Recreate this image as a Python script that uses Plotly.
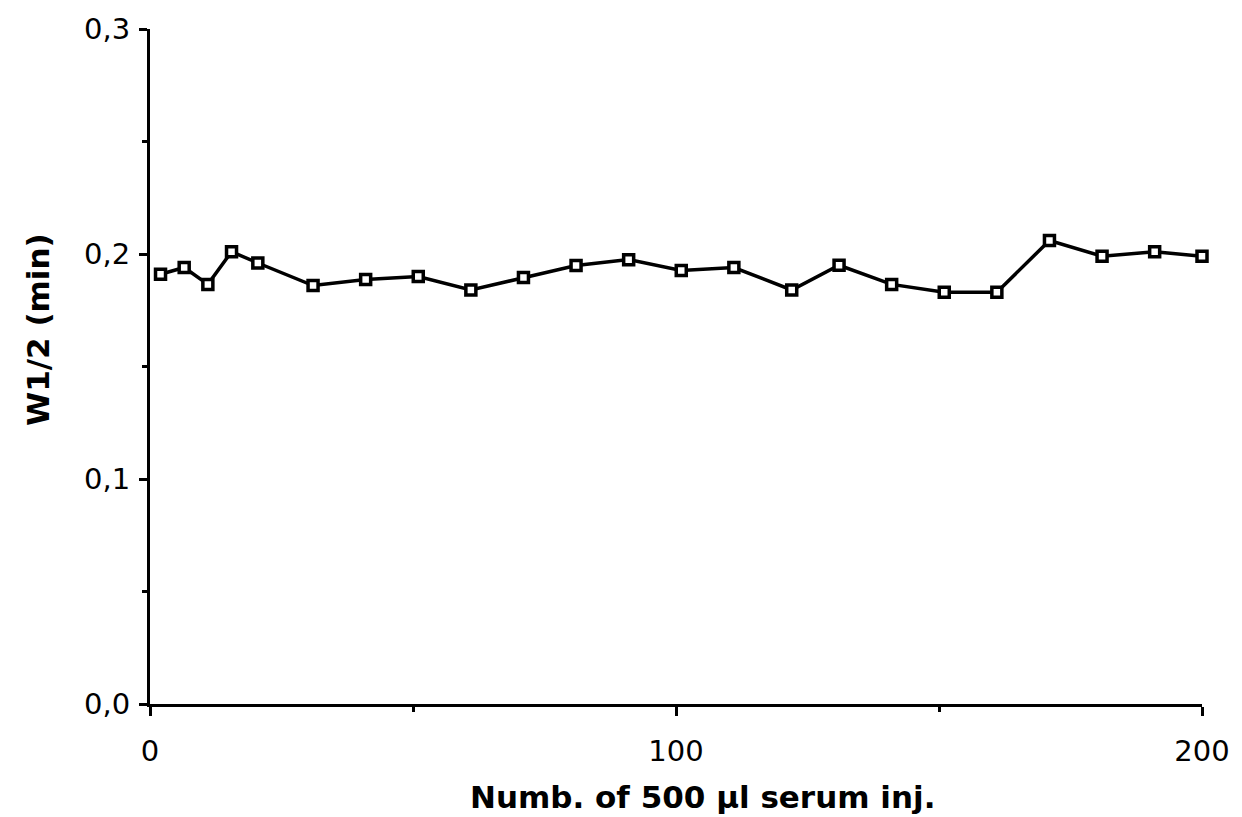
import plotly.graph_objects as go

injections = [2, 6.5, 11, 15.5, 20.5, 31, 41, 51, 61, 71, 81, 91, 101, 111, 122, 131, 141, 151, 161, 171, 181, 191, 200]
w_half = [0.191, 0.194, 0.1865, 0.201, 0.196, 0.186, 0.1887, 0.190, 0.184, 0.1896,
          0.1949, 0.1975, 0.1927, 0.194, 0.184, 0.195, 0.1865, 0.183, 0.183, 0.206,
          0.199, 0.201, 0.199]

x_ticks = [0, 100, 200]
y_ticks = [0.0, 0.1, 0.2, 0.3]
x_title = "Numb. of 500 µl serum inj."
y_title = "W1/2 (min)"

font_family = "DejaVu Sans, sans-serif"

fig = go.Figure()
fig.add_trace(go.Scatter(
    x=injections, y=w_half, mode="lines+markers",
    line=dict(color="black", width=3.5),
    marker=dict(symbol="square", size=10, color="white",
                line=dict(color="black", width=3.5)),
    cliponaxis=False, showlegend=False,
))

fig.update_layout(
    width=1242, height=817,
    margin=dict(l=150, r=38, t=22, b=113),
    paper_bgcolor="white", plot_bgcolor="white",
    separators=", ",
    font=dict(family=font_family, color="black", size=28),
)
fig.update_xaxes(
    range=[0, 200], tickvals=x_ticks, ticktext=[str(v) for v in x_ticks],
    showgrid=False, zeroline=False, showline=True, linecolor="black", linewidth=3,
    ticks="outside", ticklen=9, tickwidth=2.5, tickcolor="black",
    minor=dict(tickvals=[50, 150], ticks="outside", ticklen=5, tickwidth=2.5, tickcolor="black"),
    tickfont=dict(size=29, family=font_family), ticklabelstandoff=10,
)
fig.update_yaxes(
    range=[0, 0.3], tickvals=y_ticks, tickformat=".1f",
    showgrid=False, zeroline=False, showline=True, linecolor="black", linewidth=3,
    ticks="outside", ticklen=8, tickwidth=2.5, tickcolor="black",
    minor=dict(tickvals=[0.05, 0.15, 0.25], ticks="outside", ticklen=5, tickwidth=2.5, tickcolor="black"),
    tickfont=dict(size=29, family=font_family), ticklabelstandoff=3,
)

fig.add_annotation(
    text=f"<b>{x_title}</b>", xref="paper", yref="paper", x=0.525, y=0,
    xanchor="center", yanchor="middle", yshift=-93, showarrow=False,
    font=dict(size=31, family=font_family, color="black"),
)
fig.add_annotation(
    text=f"<b>{y_title}</b>", xref="paper", yref="paper", x=0, y=0.554,
    xanchor="center", yanchor="middle", xshift=-112, textangle=-90, showarrow=False,
    font=dict(size=31, family=font_family, color="black"),
)

fig.write_html("out.html")
